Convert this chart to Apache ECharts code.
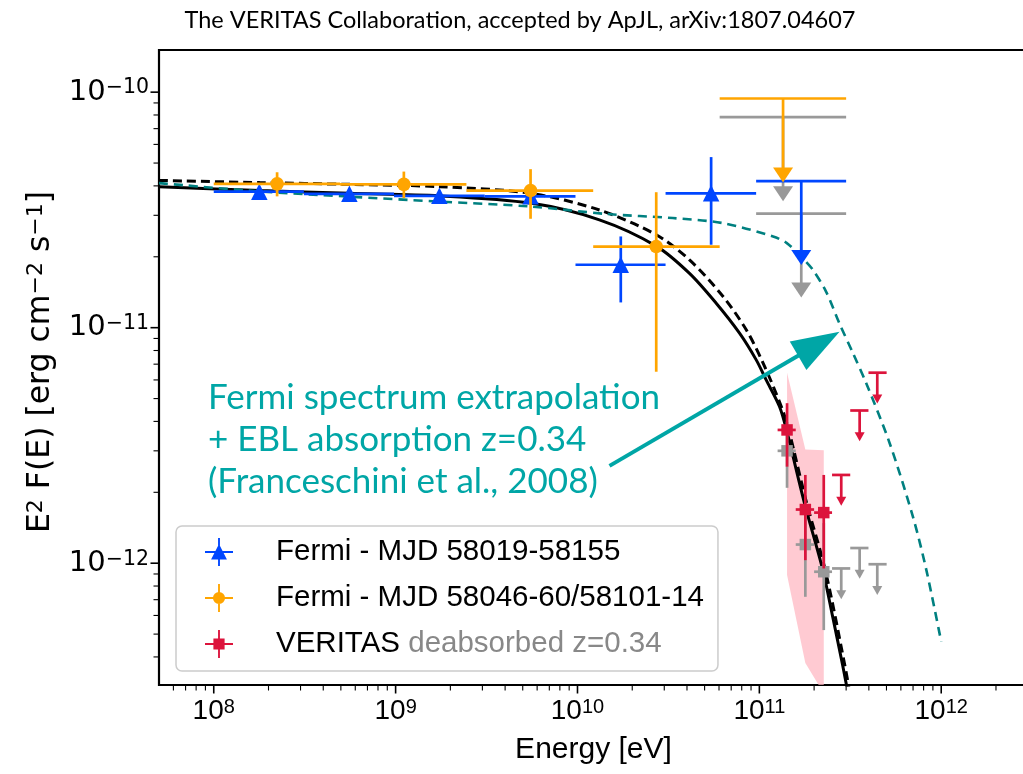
<!DOCTYPE html>
<html>
<head>
<meta charset="utf-8">
<script src="https://cdn.jsdelivr.net/npm/echarts@6/dist/echarts.min.js"></script>
<style>
  html, body { margin: 0; padding: 0; background: #ffffff; }
  #chart { width: 1023px; height: 774px; }
</style>
</head>
<body>
<div id="chart"></div>
<script>
// ---------------- Fermi-LAT, MJD 58019-58155 (blue) ----------------
const fermiA_E   = [1.78e8, 5.57e8, 1.74e9, 5.52e9, 1.73e10, 5.43e10];
const fermiA_Elo = [1.0e8, 3.13e8, 9.8e8, 3.09e9, 9.75e9, 3.05e10];
const fermiA_Ehi = [3.13e8, 9.8e8, 3.09e9, 9.75e9, 3.05e10, 9.6e10];
const fermiA_F   = [3.78e-11, 3.70e-11, 3.63e-11, 3.61e-11, 1.85e-11, 3.72e-11];
const fermiA_Flo = [3.60e-11, 3.53e-11, 3.45e-11, 3.40e-11, 1.28e-11, 2.25e-11];
const fermiA_Fhi = [3.96e-11, 3.88e-11, 3.82e-11, 3.83e-11, 2.44e-11, 5.30e-11];
const fermiA_ulE = [1.70e11], fermiA_ulElo = [9.6e10], fermiA_ulEhi = [3.0e11];
const fermiA_ulF = [4.19e-11];
const fermiA_ulF_deabs = [3.05e-11];

// ---------------- Fermi-LAT, MJD 58046-60/58101-14 (orange) ----------------
const fermiB_E   = [2.23e8, 1.11e9, 5.52e9, 2.71e10];
const fermiB_Elo = [1.0e8, 4.95e8, 2.45e9, 1.22e10];
const fermiB_Ehi = [4.95e8, 2.45e9, 1.22e10, 6.05e10];
const fermiB_F   = [4.08e-11, 4.06e-11, 3.82e-11, 2.21e-11];
const fermiB_Flo = [3.61e-11, 3.55e-11, 2.90e-11, 6.5e-12];
const fermiB_Fhi = [4.57e-11, 4.60e-11, 4.71e-11, 3.76e-11];
const fermiB_ulE = [1.35e11], fermiB_ulElo = [6.05e10], fermiB_ulEhi = [3.0e11];
const fermiB_ulF = [9.4e-11];
const fermiB_ulF_deabs = [7.83e-11];

// ---------------- VERITAS (red) and deabsorbed points (grey) ----------------
const veritas_E   = [1.42e11, 1.79e11, 2.26e11];
const veritas_Elo = [1.26e11, 1.585e11, 2.0e11];
const veritas_Ehi = [1.585e11, 2.0e11, 2.51e11];
const veritas_F   = [3.68e-12, 1.69e-12, 1.64e-12];
const veritas_Flo = [2.57e-12, 1.03e-12, 9.5e-13];
const veritas_Fhi = [4.78e-12, 2.37e-12, 2.37e-12];
const veritasDeabs_F   = [3.0e-12, 1.2e-12, 9.2e-13];
const veritasDeabs_Flo = [2.09e-12, 7.2e-13, 5.2e-13];
const veritasDeabs_Fhi = [3.98e-12, 1.78e-12, 1.48e-12];
const veritas_ulE   = [2.82e11, 3.56e11, 4.45e11];
const veritas_ulElo = [2.51e11, 3.16e11, 3.98e11];
const veritas_ulEhi = [3.16e11, 3.98e11, 5.01e11];
const veritas_ulF       = [2.37e-12, 4.45e-12, 6.44e-12];
const veritasDeabs_ulF  = [9.5e-13, 1.16e-12, 9.9e-13];
// VERITAS butterfly (confidence band)
const band_E  = [1.42e11, 1.79e11, 2.26e11];
const band_hi = [6.44e-12, 3.04e-12, 3.02e-12];
const band_lo = [8.9e-13, 3.77e-13, 2.8e-13];

// ---------------- model curves ----------------
const fitSolid_E = [5.0e7, 1.79e8, 5.57e8, 1.74e9, 5.52e9, 1.32e10, 2.71e10, 4.13e10, 5.79e10, 7.78e10, 9.61e10, 1.09e11, 1.29e11, 1.41e11, 1.77e11, 2.23e11, 2.53e11, 2.88e11, 3.13e11];
const fitSolid_F = [3.97e-11, 3.82e-11, 3.72e-11, 3.63e-11, 3.38e-11, 2.87e-11, 2.22e-11, 1.70e-11, 1.27e-11, 9.48e-12, 7.30e-12, 6.0e-12, 4.63e-12, 3.68e-12, 1.80e-12, 9.4e-13, 5.93e-13, 3.64e-13, 2.6e-13];
const fitDashed_E = [5.0e7, 1.79e8, 5.57e8, 1.74e9, 5.52e9, 1.32e10, 2.71e10, 4.13e10, 6.30e10, 8.47e10, 1.05e11, 1.32e11, 1.45e11, 1.82e11, 2.30e11, 2.96e11, 3.20e11];
const fitDashed_F = [4.22e-11, 4.13e-11, 4.06e-11, 3.97e-11, 3.72e-11, 3.16e-11, 2.48e-11, 1.94e-11, 1.36e-11, 9.8e-12, 7.06e-12, 4.63e-12, 3.68e-12, 1.80e-12, 9.4e-13, 3.64e-13, 2.6e-13];
const eblModel_E = [5.0e7, 1.79e8, 5.57e8, 1.74e9, 5.52e9, 1.44e10, 3.34e10, 6.30e10, 1.19e11, 1.41e11, 1.70e11, 1.97e11, 2.33e11, 2.76e11, 3.27e11, 3.87e11, 5.20e11, 6.98e11, 8.28e11, 1.0e12];
const eblModel_F = [4.11e-11, 3.79e-11, 3.60e-11, 3.43e-11, 3.27e-11, 3.04e-11, 2.92e-11, 2.78e-11, 2.44e-11, 2.29e-11, 2.00e-11, 1.76e-11, 1.42e-11, 1.04e-11, 7.80e-12, 5.81e-12, 3.24e-12, 1.58e-12, 9.37e-13, 4.64e-13];

// annotation arrow (tail -> head), in energy / flux units
const noteArrow = [[1.50e10, 2.59e-12, 2.76e11, 9.62e-12]];

// axis ranges
const X_MIN = 5e7, X_MAX = 3e12;
const Y_MIN = 3.04e-13, Y_MAX = 1.51e-10;

const legendNames = ['Fermi - MJD 58019-58155', 'Fermi - MJD 58046-60/58101-14', 'VERITAS'];
const noteLines = ['Fermi spectrum extrapolation', '+ EBL absorption z=0.34', '(Franceschini et al., 2008)'];
const titleText = 'The VERITAS Collaboration, accepted by ApJL, arXiv:1807.04607';
const yTitle = 'E{s|2} F(E) [erg cm{s|\u22122} s{s|\u22121}]';

// ---------------- colours ----------------
const BLUE = '#0046ff', ORANGE = '#ffa500', RED = '#dc143c', GREY = '#999999';
const TEAL = '#008080', NOTE = '#00a6a6';

// ---------------- helpers ----------------
const zip = (...cols) => cols[0].map((_, i) => cols.map(c => c[i]));
const isPow10 = v => Math.abs(Math.log10(v) - Math.round(Math.log10(v))) < 1e-6;

function marker(kind, c, s, color) {
  if (kind === 'triangle') {
    return { type: 'polygon', shape: { points: [[c[0], c[1] - s / 2], [c[0] - s / 2, c[1] + s / 2], [c[0] + s / 2, c[1] + s / 2]] }, style: { fill: color } };
  }
  if (kind === 'circle') {
    return { type: 'circle', shape: { cx: c[0], cy: c[1], r: s / 2 }, style: { fill: color } };
  }
  return { type: 'rect', shape: { x: c[0] - s / 2, y: c[1] - s / 2, width: s, height: s }, style: { fill: color } };
}

// data item: [E, F, Elo, Ehi, Flo, Fhi]
function pointRenderer(kind, size, lw) {
  return function (params, api) {
    const E = api.value(0), F = api.value(1);
    const c = api.coord([E, F]);
    const l = api.coord([api.value(2), F]), r = api.coord([api.value(3), F]);
    const b = api.coord([E, api.value(4)]), t = api.coord([E, api.value(5)]);
    const color = api.visual('color');
    return {
      type: 'group',
      children: [
        { type: 'line', shape: { x1: l[0], y1: l[1], x2: r[0], y2: r[1] }, style: { stroke: color, lineWidth: lw } },
        { type: 'line', shape: { x1: t[0], y1: t[1], x2: b[0], y2: b[1] }, style: { stroke: color, lineWidth: lw } },
        marker(kind, c, size, color)
      ]
    };
  };
}

// data item: [E, F(limit), Elo, Ehi]; the arrow ends at drop * F
function ulRenderer(drop, headW, headH, lw) {
  return function (params, api) {
    const E = api.value(0), F = api.value(1);
    const l = api.coord([api.value(2), F]), r = api.coord([api.value(3), F]);
    const top = api.coord([E, F]), tip = api.coord([E, F * drop]);
    const color = api.visual('color');
    return {
      type: 'group',
      children: [
        { type: 'line', shape: { x1: l[0], y1: l[1], x2: r[0], y2: r[1] }, style: { stroke: color, lineWidth: lw } },
        { type: 'line', shape: { x1: top[0], y1: top[1], x2: tip[0], y2: tip[1] - headH + 1 }, style: { stroke: color, lineWidth: lw } },
        { type: 'polygon', shape: { points: [[tip[0], tip[1]], [tip[0] - headW / 2, tip[1] - headH], [tip[0] + headW / 2, tip[1] - headH]] }, style: { fill: color } }
      ]
    };
  };
}

const FERMI_UL_DROP = 0.44;
const VERITAS_UL_DROP = 0.74;

// tick marks (major + minor) on the bottom and left axes
const tickData = [];
for (let k = 7; k <= 12; k++) {
  for (let m = 1; m <= 9; m++) {
    const v = m * Math.pow(10, k);
    if (v > X_MIN && v < X_MAX) tickData.push([v, Y_MIN, m === 1 ? 1 : 0, 0]);
  }
}
for (let k = -13; k <= -10; k++) {
  for (let m = 1; m <= 9; m++) {
    const v = m * Math.pow(10, k);
    if (v > Y_MIN && v < Y_MAX) tickData.push([X_MIN, v, m === 1 ? 1 : 0, 1]);
  }
}

const chart = echarts.init(document.getElementById('chart'), null, { renderer: 'canvas' });

const SANS = '"Liberation Sans", Arial, sans-serif';
const DEJAVU = '"DejaVu Sans", sans-serif';
const HUMANIST = 'Lato, "Open Sans", sans-serif';

const legendIcon = {
  tri: 'path://M0 14H30V16H0Z M14 0H16V30H14Z M15 6.5L23.5 23H6.5Z',
  circ: 'path://M0 14H30V16H0Z M14 0H16V30H14Z M15 8.5A6.5 6.5 0 1 1 14.99 8.5Z',
  sq: 'path://M0 14H30V16H0Z M14 0H16V30H14Z M9 9H21V21H9Z'
};

const curveStyle = { type: 'line', silent: true, z: 3, showSymbol: false, smooth: 0.3 };

const option = {
  animation: false,
  backgroundColor: '#ffffff',
  grid: {
    left: 159, top: 50, width: 869, height: 635,
    show: true, borderColor: '#000000', borderWidth: 2.2, backgroundColor: 'transparent',
    outerBoundsMode: 'none', containLabel: false
  },
  xAxis: {
    type: 'log', logBase: 10, min: X_MIN, max: X_MAX,
    axisLine: { show: false }, axisTick: { show: false }, splitLine: { show: false }, minorTick: { show: false },
    axisLabel: {
      margin: 12, color: '#000', fontFamily: SANS, fontSize: 28,
      formatter: v => isPow10(v) ? '10{s|' + Math.round(Math.log10(v)) + '}' : '',
      rich: { s: { fontFamily: SANS, fontSize: 20, color: '#000', verticalAlign: 'top', padding: [0, 0, 8, 0] } }
    },
    name: 'Energy [eV]', nameLocation: 'middle', nameGap: 50,
    nameTextStyle: { fontFamily: SANS, fontSize: 30, color: '#000' }
  },
  yAxis: {
    type: 'log', logBase: 10, min: Y_MIN, max: Y_MAX,
    axisLine: { show: false }, axisTick: { show: false }, splitLine: { show: false }, minorTick: { show: false },
    axisLabel: {
      margin: 10, color: '#000', fontFamily: DEJAVU, fontSize: 29,
      formatter: v => isPow10(v) ? '10{s|\u2212' + Math.abs(Math.round(Math.log10(v))) + '}' : '',
      rich: { s: { fontFamily: DEJAVU, fontSize: 20.5, color: '#000', verticalAlign: 'top', padding: [0, 0, 8, 0] } }
    }
  },
  legend: {
    data: [
      { name: legendNames[0], icon: legendIcon.tri },
      { name: legendNames[1], icon: legendIcon.circ },
      { name: legendNames[2], icon: legendIcon.sq }
    ],
    orient: 'vertical', left: 176, top: 526,
    padding: [11, 14, 12, 29], itemGap: 16, itemWidth: 28, itemHeight: 30,
    backgroundColor: 'rgba(255,255,255,0.8)', borderColor: '#cccccc', borderWidth: 1.5, borderRadius: 6,
    selectedMode: false,
    formatter: name => name === 'VERITAS' ? 'VERITAS {g|deabsorbed z=0.34}' : name,
    textStyle: {
      fontFamily: SANS, fontSize: 29.5, color: '#000', padding: [0, 0, 0, 38],
      rich: { g: { fontFamily: SANS, fontSize: 29.5, color: '#888888' } }
    }
  },
  graphic: [
    { type: 'text', silent: true, style: { x: 520, y: 20, text: titleText, align: 'center', verticalAlign: 'middle', font: '23.5px ' + HUMANIST, fill: '#000' } },
    {
      type: 'text', silent: true, x: 41, y: 362, rotation: Math.PI / 2,
      style: {
        text: yTitle, align: 'center', verticalAlign: 'middle', fontFamily: DEJAVU, fontSize: 31.5, fill: '#000',
        rich: { s: { fontFamily: DEJAVU, fontSize: 22, fill: '#000', verticalAlign: 'top', padding: [0, 0, 9, 0] } }
      }
    },
    { type: 'text', silent: true, style: { x: 208, y: 398, text: noteLines[0], align: 'left', verticalAlign: 'middle', font: '35px ' + HUMANIST, fill: NOTE } },
    { type: 'text', silent: true, style: { x: 208, y: 440, text: noteLines[1], align: 'left', verticalAlign: 'middle', font: '35px ' + HUMANIST, fill: NOTE } },
    { type: 'text', silent: true, style: { x: 208, y: 482, text: noteLines[2], align: 'left', verticalAlign: 'middle', font: '35px ' + HUMANIST, fill: NOTE } }
  ],
  series: [
    {
      name: 'axis ticks', type: 'custom', silent: true, clip: false, z: 1,
      encode: { x: 0, y: 1 }, data: tickData,
      renderItem: (params, api) => {
        const p = api.coord([api.value(0), api.value(1)]);
        const major = api.value(2) === 1, len = major ? 7.5 : 4.5;
        const style = { stroke: '#000', lineWidth: major ? 1.6 : 1.1 };
        if (api.value(3) === 0) return { type: 'line', shape: { x1: p[0], y1: p[1] + 1, x2: p[0], y2: p[1] + 1 + len }, style };
        return { type: 'line', shape: { x1: p[0] - 1, y1: p[1], x2: p[0] - 1 - len, y2: p[1] }, style };
      }
    },
    {
      name: 'VERITAS band', type: 'custom', silent: true, clip: true, z: 2,
      encode: { x: 0, y: 1 }, data: [band_E.map((e, i) => [e, band_hi[i]])],
      renderItem: (params, api) => {
        const top = band_E.map((e, i) => api.coord([e, band_hi[i]]));
        const bot = band_E.map((e, i) => api.coord([e, band_lo[i]])).reverse();
        return { type: 'polygon', shape: { points: top.concat(bot) }, style: { fill: 'rgba(255,182,193,0.72)' } };
      }
    },
    Object.assign({ name: 'fit', data: zip(fitSolid_E, fitSolid_F), lineStyle: { color: '#000', width: 3 } }, curveStyle),
    Object.assign({ name: 'fit dashed', data: zip(fitDashed_E, fitDashed_F), lineStyle: { color: '#000', width: 3, type: [9, 5] } }, curveStyle),
    Object.assign({ name: 'EBL model', data: zip(eblModel_E, eblModel_F), lineStyle: { color: TEAL, width: 2.6, type: [9, 6] } }, curveStyle),
    {
      name: 'note arrow', type: 'custom', silent: true, clip: false, z: 4,
      encode: { x: [0, 2], y: [1, 3] }, data: noteArrow,
      renderItem: (params, api) => {
        const a = api.coord([api.value(0), api.value(1)]);
        const b = api.coord([api.value(2), api.value(3)]);
        const dx = b[0] - a[0], dy = b[1] - a[1], L = Math.hypot(dx, dy);
        const ux = dx / L, uy = dy / L, headL = 48, headW = 16.5;
        const base = [b[0] - ux * headL, b[1] - uy * headL];
        return {
          type: 'group', children: [
            { type: 'line', shape: { x1: a[0], y1: a[1], x2: base[0] + ux * 2, y2: base[1] + uy * 2 }, style: { stroke: NOTE, lineWidth: 4 } },
            { type: 'polygon', shape: { points: [b, [base[0] - uy * headW, base[1] + ux * headW], [base[0] + uy * headW, base[1] - ux * headW]] }, style: { fill: NOTE } }
          ]
        };
      }
    },
    {
      name: 'Fermi UL deabsorbed', type: 'custom', silent: true, z: 5, itemStyle: { color: GREY },
      encode: { x: 0, y: 1 },
      data: zip(fermiA_ulE.concat(fermiB_ulE), fermiA_ulF_deabs.concat(fermiB_ulF_deabs), fermiA_ulElo.concat(fermiB_ulElo), fermiA_ulEhi.concat(fermiB_ulEhi)),
      renderItem: ulRenderer(FERMI_UL_DROP, 20, 15, 2.7)
    },
    {
      name: legendNames[0], type: 'custom', silent: true, z: 6, itemStyle: { color: BLUE },
      encode: { x: 0, y: 1 },
      data: zip(fermiA_E, fermiA_F, fermiA_Elo, fermiA_Ehi, fermiA_Flo, fermiA_Fhi),
      renderItem: pointRenderer('triangle', 16.5, 2.7)
    },
    {
      name: 'Fermi A UL', type: 'custom', silent: true, z: 6, itemStyle: { color: BLUE },
      encode: { x: 0, y: 1 },
      data: zip(fermiA_ulE, fermiA_ulF, fermiA_ulElo, fermiA_ulEhi),
      renderItem: ulRenderer(FERMI_UL_DROP, 20, 15, 2.7)
    },
    {
      name: legendNames[1], type: 'custom', silent: true, z: 7, itemStyle: { color: ORANGE },
      encode: { x: 0, y: 1 },
      data: zip(fermiB_E, fermiB_F, fermiB_Elo, fermiB_Ehi, fermiB_Flo, fermiB_Fhi),
      renderItem: pointRenderer('circle', 13.5, 2.7)
    },
    {
      name: 'Fermi B UL', type: 'custom', silent: true, z: 7, itemStyle: { color: ORANGE },
      encode: { x: 0, y: 1 },
      data: zip(fermiB_ulE, fermiB_ulF, fermiB_ulElo, fermiB_ulEhi),
      renderItem: ulRenderer(FERMI_UL_DROP, 20, 15, 2.7)
    },
    {
      name: 'VERITAS deabsorbed', type: 'custom', silent: true, z: 8, itemStyle: { color: GREY },
      encode: { x: 0, y: 1 },
      data: zip(veritas_E, veritasDeabs_F, veritas_Elo, veritas_Ehi, veritasDeabs_Flo, veritasDeabs_Fhi),
      renderItem: pointRenderer('square', 11.5, 2.7)
    },
    {
      name: 'VERITAS deabsorbed UL', type: 'custom', silent: true, z: 8, itemStyle: { color: GREY },
      encode: { x: 0, y: 1 },
      data: zip(veritas_ulE, veritasDeabs_ulF, veritas_ulElo, veritas_ulEhi),
      renderItem: ulRenderer(VERITAS_UL_DROP, 10, 9, 2.7)
    },
    {
      name: legendNames[2], type: 'custom', silent: true, z: 9, itemStyle: { color: RED },
      encode: { x: 0, y: 1 },
      data: zip(veritas_E, veritas_F, veritas_Elo, veritas_Ehi, veritas_Flo, veritas_Fhi),
      renderItem: pointRenderer('square', 11.5, 2.7)
    },
    {
      name: 'VERITAS UL', type: 'custom', silent: true, z: 9, itemStyle: { color: RED },
      encode: { x: 0, y: 1 },
      data: zip(veritas_ulE, veritas_ulF, veritas_ulElo, veritas_ulEhi),
      renderItem: ulRenderer(VERITAS_UL_DROP, 10, 9, 2.7)
    }
  ]
};

chart.setOption(option);
</script>
</body>
</html>
